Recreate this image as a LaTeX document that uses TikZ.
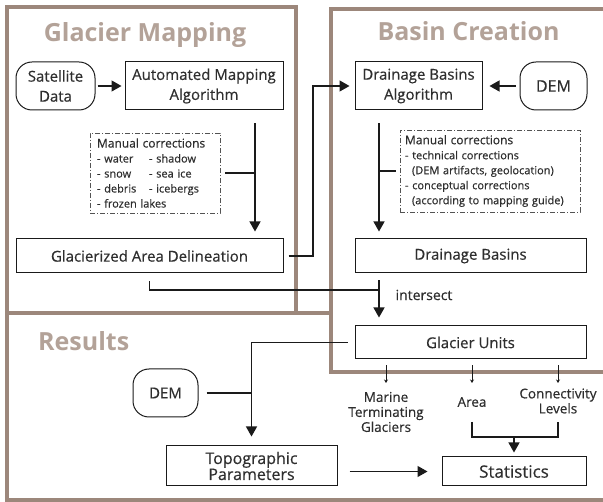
\documentclass[tikz,border=0pt]{standalone}
\usepackage{fontspec}
\setmainfont{Open Sans}[UprightFeatures={FakeBold=0.5}]
\usetikzlibrary{arrows.meta}
\definecolor{frame}{HTML}{9C877B}
\definecolor{ttl}{HTML}{B3A298}
\definecolor{txt}{HTML}{2E2E2E}
\definecolor{lncol}{HTML}{1A1A1A}
\begin{document}
\begin{tikzpicture}[x=1pt,y=-1pt,
  fr/.style={draw=frame,line width=4pt},
  ttlstyle/.style={text=ttl,font=\fontsize{25}{30}\selectfont\bfseries,inner sep=0},
  box/.style={draw=lncol,line width=1pt,inner sep=0,text=txt,align=center,font=\fontsize{15}{20}\selectfont},
  rbox/.style={box,rounded corners=16pt},
  mbox/.style={draw=lncol!75,line width=0.8pt,dash pattern=on 5pt off 2pt on 1pt off 2pt,inner sep=0,text=txt,align=left,font=\fontsize{11}{15}\selectfont},
  arr/.style={draw=lncol,line width=1.3pt,-{Triangle[width=11pt,length=10pt]}},
  conn/.style={draw=lncol,line width=1.3pt},
  sarr/.style={draw=lncol,line width=0.9pt,-{Stealth[width=4pt,length=3.5pt]}},
  lab/.style={text=txt,inner sep=0,align=center,font=\fontsize{13.5}{15}\selectfont}]
\useasboundingbox (0,0) rectangle (603,502);
\clip (0,0) rectangle (603,502);
% frames
\draw[fr] (7,7) rectangle (296,313);
\draw[fr] (640,9) -| (331,372) -- (640,372);
\draw[fr] (331,313) -- (7,313) -- (7,500) -- (640,500);
% titles
\node[ttlstyle,anchor=base] (t1) at (145,42) {Glacier Mapping};
\node[ttlstyle,anchor=base] (t2) at (468.5,41) {Basin Creation};
\node[ttlstyle,anchor=base west] (t3) at (38,351) {Results};
% nodes
\node[rbox,minimum width=79pt,minimum height=48pt] (sat) at (55.5,86) {Satellite\\Data};
\node[box,minimum width=158pt,minimum height=48pt] (ama) at (204,86) {Automated Mapping\\Algorithm};
\node[box,minimum width=267pt,minimum height=34pt] (gad) at (149.5,256) {Glacierized Area Delineation};
\node[box,minimum width=127pt,minimum height=48pt] (dba) at (418.5,86) {Drainage Basins\\Algorithm};
\node[rbox,minimum width=67pt,minimum height=48pt,font=\fontsize{16}{20}\selectfont] (dem1) at (553.5,86) {DEM};
\node[box,minimum width=231pt,minimum height=34pt] (db) at (470.5,256) {Drainage Basins};
\node[box,minimum width=231pt,minimum height=33pt] (gu) at (470.5,342.5) {Glacier Units};
\node[rbox,minimum width=65pt,minimum height=48pt] (dem2) at (165.5,393) {DEM};
\node[box,minimum width=171pt,minimum height=40pt,font=\fontsize{16}{16}\selectfont] (tp) at (251.5,466) {Topographic\\Parameters};
\node[box,minimum width=144pt,minimum height=29pt,font=\fontsize{17}{20}\selectfont] (st) at (514,471.5) {Statistics};
\node[mbox,minimum width=130pt,minimum height=80pt,text width=116pt] (mc1) at (155,173) {{\fontsize{12}{15}\selectfont Manual corrections}\\\makebox[52pt][l]{- water}- shadow\\\makebox[52pt][l]{- snow}- sea ice\\\makebox[52pt][l]{- debris}- icebergs\\- frozen lakes};
\node[mbox,minimum width=180pt,minimum height=82pt,text width=170pt] (mc2) at (490,171) {{\fontsize{12}{15}\selectfont Manual corrections}\\- technical corrections\\\hspace*{7pt}(DEM artifacts, geolocation)\\- conceptual corrections\\\hspace*{7pt}(according to mapping guide)};
\node[lab,font=\fontsize{14}{15}\selectfont] (isec) at (424,295) {intersect};
\node[lab] (mtg) at (386,412) {Marine\\Terminating\\Glaciers};
\node[lab] (area) at (472,402) {Area};
\node[lab] (conn) at (558,401) {Connectivity\\Levels};
% coordinates
\coordinate (x1) at (255,0);
\coordinate (x2) at (313,0);
\coordinate (x3) at (379,0);
\coordinate (j1) at (379,290);
\coordinate (bar) at (0,422);
\coordinate (bar2) at (0,383);
\coordinate (jb) at (514,437);
% connectors
\draw[arr,shorten <=2pt,shorten >=3pt] (sat) -- (ama);
\draw[arr,shorten <=13pt,shorten >=7pt] (ama.south -| x1) -- (gad.north -| x1);
\draw[conn,shorten <=5pt] (mc1.east) -- (mc1.east -| x1);
\draw[arr,shorten <=5pt,shorten >=5pt] (gad.east) -| (x2 |- dba.west) -- (dba.west);
\draw[arr,shorten <=4pt,shorten >=7pt] (dem1) -- (dba);
\draw[arr,shorten <=13pt,shorten >=7pt] (dba.south -| x3) -- (db.north -| x3);
\draw[conn,shorten <=4pt] (mc2.west) -- (mc2.west -| x3);
\draw[arr,shorten <=7pt,shorten >=8pt] (db.south -| x3) -- (gu.north -| x3);
\draw[conn,shorten <=8pt] (gad.south) |- (j1);
\draw[arr,shorten <=7pt,shorten >=9pt] (gu.west) -| (tp.north);
\draw[conn,shorten <=8pt] (dem2.east) -- (dem2.east -| tp.north);
\draw[arr,shorten <=12pt,shorten >=14pt] (tp.east |- st.west) -- (st.west);
\draw[sarr,shorten <=6pt] (gu.south -| mtg) -- (mtg |- bar2);
\draw[sarr,shorten <=6pt] (gu.south -| area) -- (area |- bar2);
\draw[sarr,shorten <=6pt] (gu.south -| conn) -- (conn |- bar2);
\draw[conn] (area |- bar) |- (jb) -| (conn |- bar);
\draw[arr,shorten >=4pt] (jb) -- (st.north);
\end{tikzpicture}
\end{document}
